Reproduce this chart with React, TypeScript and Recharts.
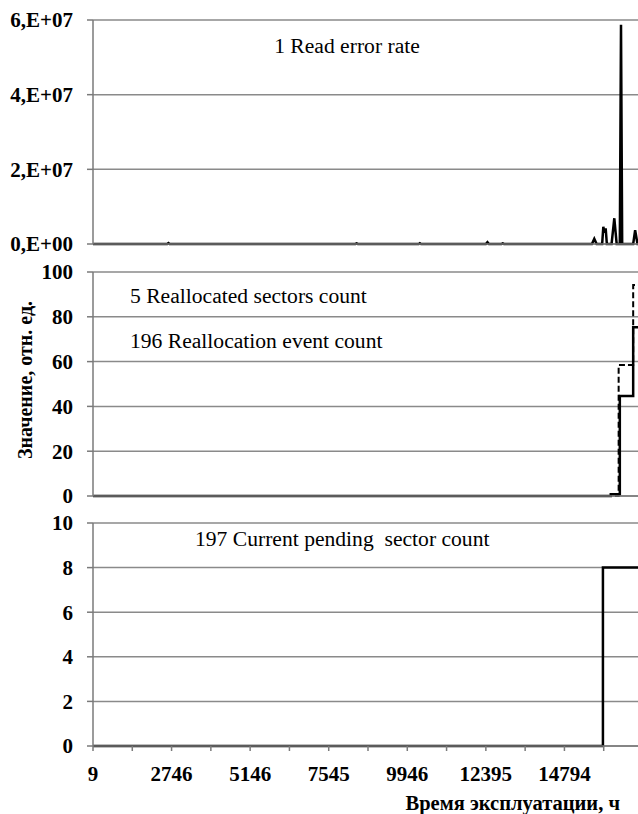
import React from 'react';
import { LineChart, Line, XAxis, YAxis, CartesianGrid } from 'recharts';

// x is measured in tick steps of the original category axis (label every 2nd tick)
const tickSteps = [0, 1, 2, 3, 4, 5, 6, 7, 8, 9, 10, 11, 12, 13, 14];
const hourLabels = ['9', '2746', '5146', '7545', '9946', '12395', '14794'];

// 1 Read error rate
const readErrorAt = [0, 1.89, 1.92, 1.95, 6.68, 6.71, 6.74, 8.29, 8.32, 8.35, 10.0, 10.04, 10.08, 10.4, 10.43, 10.46,
  12.7, 12.76, 12.82, 12.96, 12.99, 13.02, 13.05, 13.08, 13.2, 13.27, 13.33, 13.41, 13.44, 13.47, 13.75, 13.8, 13.86, 14];
const readErrorRate = [0, 0, 2.5e5, 0, 0, 1.5e5, 0, 0, 2e5, 0, 0, 5e5, 0, 0, 1.5e5, 0,
  0, 1.4e6, 0, 0, 4.6e6, 3.0e6, 4.2e6, 0, 0, 6.9e6, 0, 0, 5.87e7, 0, 0, 3.7e6, 0, 0];

// 5 Reallocated sectors count (solid) and 196 Reallocation event count (dashed)
const reallocAt = [0, 13.18, 13.18, 13.38, 13.38, 13.41, 13.41, 13.75, 13.75, 14];
const reallocSectors = [0, 0, 0.8, 0.8, 0.8, 0.8, 44.6, 44.6, 75.3, 75.3];
const reallocEvents = [0, 0, 0, 0, 58.5, 58.5, 58.5, 58.5, 94.2, 94.2];

// 197 Current pending sector count
const pendingAt = [0, 12.98, 12.98, 14];
const pending = [0, 0, 8, 8];

const yTicks1 = [0, 2e7, 4e7, 6e7];
const yTicks1Labels = ['0,E+00', '2,E+07', '4,E+07', '6,E+07'];
const yTicks2 = [0, 20, 40, 60, 80, 100];
const yTicks3 = [0, 2, 4, 6, 8, 10];

const zip = (xs: number[], vs: number[]) => xs.map((u, i) => ({ u, v: vs[i] }));
const reallocData = reallocAt.map((u, i) => ({ u, sectors: reallocSectors[i], events: reallocEvents[i] }));

const FONT = "'Liberation Serif', 'DejaVu Serif', 'Times New Roman', serif";
const GRID = '#8a8a8a';
const AXIS = '#7a7a7a';
const W = 663;
const margin = { top: 20, right: 20, bottom: 10, left: 0 };

const tickStyle = { fill: '#000', fontSize: 21, fontWeight: 'bold' as const, fontFamily: FONT };
const titleStyle = { fill: '#000', fontSize: 21.6, fontFamily: FONT };

const yAxisProps = {
  type: 'number' as const,
  width: 93,
  tickSize: 6,
  tickMargin: 14,
  interval: 0 as const,
  tick: tickStyle,
  axisLine: { stroke: AXIS, strokeWidth: 1.5 },
  tickLine: { stroke: AXIS, strokeWidth: 1.5 },
};

const xAxisProps = {
  dataKey: 'u',
  type: 'number' as const,
  domain: [0, 14],
  ticks: tickSteps,
  interval: 0 as const,
  tickSize: 5,
  axisLine: { stroke: AXIS, strokeWidth: 1.5 },
  tickLine: { stroke: AXIS, strokeWidth: 1.5 },
};

export default function App() {
  return (
    <div style={{ position: 'absolute', left: 0, top: 0, width: 638, height: 814, overflow: 'hidden', background: '#fff', fontFamily: FONT }}>
      <div style={{ position: 'absolute', left: 0, top: 0 }}>
        <LineChart width={W} height={262} margin={margin} data={zip(readErrorAt, readErrorRate)}>
          <CartesianGrid vertical={false} stroke={GRID} strokeWidth={1.5} />
          <XAxis {...xAxisProps} height={8} tick={false} />
          <YAxis {...yAxisProps} domain={[0, 6e7]} ticks={yTicks1}
            tickFormatter={(v: number) => yTicks1Labels[yTicks1.indexOf(v)] ?? ''} />
          <Line dataKey="v" type="linear" stroke="#000" strokeWidth={2.5} dot={false} isAnimationActive={false} />
          <text x={347} y={53} textAnchor="middle" fontFamily={FONT} style={titleStyle}>1 Read error rate</text>
        </LineChart>
      </div>
      <div style={{ position: 'absolute', left: 0, top: 252 }}>
        <LineChart width={W} height={262} margin={margin} data={reallocData}>
          <CartesianGrid vertical={false} stroke={GRID} strokeWidth={1.5} />
          <XAxis {...xAxisProps} height={8} tick={false} />
          <YAxis {...yAxisProps} domain={[0, 100]} ticks={yTicks2} />
          <Line dataKey="events" type="linear" stroke="#000" strokeWidth={2}
            strokeDasharray="6 3" dot={false} isAnimationActive={false} />
          <Line dataKey="sectors" type="linear" stroke="#000" strokeWidth={2.5}
            dot={false} isAnimationActive={false} />
          <text x={130} y={51} fontFamily={FONT} style={titleStyle}>5 Reallocated sectors count</text>
          <text x={130} y={96} fontFamily={FONT} style={titleStyle}>196 Reallocation event count</text>
          <text x={25} y={128} transform="rotate(-90 25 128)" textAnchor="middle" dominantBaseline="central"
            fontFamily={FONT} style={{ fill: '#000', fontSize: 20, fontWeight: 'bold', fontFamily: FONT }}>Значение, отн. ед.</text>
        </LineChart>
      </div>
      <div style={{ position: 'absolute', left: 0, top: 503 }}>
        <LineChart width={W} height={311} margin={{ ...margin, bottom: 0 }} data={zip(pendingAt, pending)}>
          <CartesianGrid vertical={false} stroke={GRID} strokeWidth={1.5} />
          <XAxis {...xAxisProps} height={68} tickMargin={15} tick={tickStyle}
            tickFormatter={(u: number) => (u % 2 === 0 ? hourLabels[u / 2] ?? '' : '')} />
          <YAxis {...yAxisProps} domain={[0, 10]} ticks={yTicks3} />
          <Line dataKey="v" type="linear" stroke="#000" strokeWidth={2.5} dot={false} isAnimationActive={false} />
          <text x={195} y={43} fontFamily={FONT} style={titleStyle}>197 Current pending{'\u00a0'} sector count</text>
          <text x={620} y={307} textAnchor="end" fontFamily={FONT}
            style={{ fill: '#000', fontSize: 20.5, fontWeight: 'bold', fontFamily: FONT }}>Время эксплуатации, ч</text>
        </LineChart>
      </div>
    </div>
  );
}
